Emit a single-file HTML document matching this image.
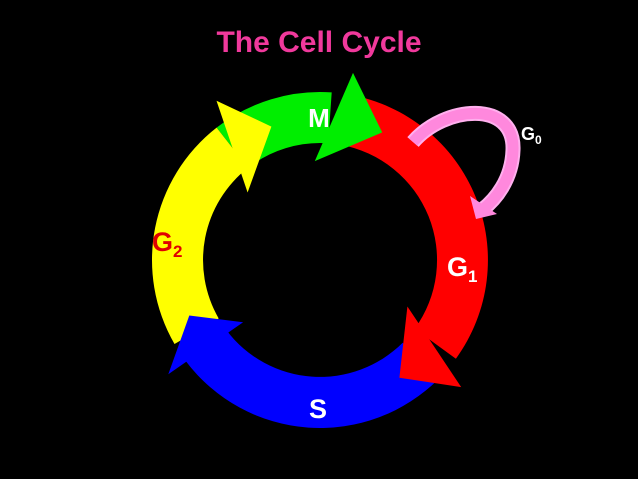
<!DOCTYPE html>
<html><head><meta charset="utf-8"><style>
html,body{margin:0;padding:0;background:#000;width:638px;height:479px;overflow:hidden}
svg{display:block}
text{font-family:"Liberation Sans",sans-serif;font-weight:bold}
</style></head><body>
<svg id="s" width="638" height="479" viewBox="0 0 638 479" xmlns="http://www.w3.org/2000/svg">
<rect width="638" height="479" fill="#000"/>
<g id="bodies"></g>
<g id="heads"></g>
<path d="M413,142 C445,105 515,100 513,150 C512,180 495,200 482,210" fill="none" stroke="#ffb0ee" stroke-width="15"/>
<path d="M413,142 C445,105 515,100 513,150 C512,180 495,200 482,210" fill="none" stroke="#ff88dd" stroke-width="11"/>
<polygon points="470,196 497,214 476,219" fill="#ff88dd"/>
<text x="319" y="52" font-size="30" fill="#f0399c" text-anchor="middle">The Cell Cycle</text>
<text x="319" y="127" font-size="26" fill="#fff" text-anchor="middle">M</text>
<text x="152" y="251" font-size="27" fill="#e00000">G<tspan font-size="17" dy="6">2</tspan></text>
<text x="447" y="276" font-size="27" fill="#fff">G<tspan font-size="17" dy="6">1</tspan></text>
<text x="318" y="418" font-size="27" fill="#fff" text-anchor="middle">S</text>
<text x="521" y="140" font-size="18" fill="#fff">G<tspan font-size="12" dy="4">0</tspan></text>
</svg>
<script>
var cx=320,cy=260,ri=117,ro=168,rm=142.5;
function p(r,a){a=a*Math.PI/180;return (cx+r*Math.cos(a)).toFixed(1)+","+(cy+r*Math.sin(a)).toFixed(1);}
function body(a0,a1,c){
 var large=(a1-a0)>180?1:0;
 return '<path d="M'+p(ro,a0)+' A'+ro+','+ro+' 0 '+large+' 1 '+p(ro,a1)+' L'+p(ri,a1)+' A'+ri+','+ri+' 0 '+large+' 0 '+p(ri,a0)+' Z" fill="'+c+'"/>';
}
function head(ao,ai,at,c){
 return '<polygon points="'+p(190,ao)+' '+p(99,ai)+' '+p(142,at)+'" fill="'+c+'"/>';
}
var arrows=[
 {a0:-128,a1:-86,ao:-80,ai:-93,at:-64,c:"#00ee00"},
 {a0:-80,a1:36,ao:42,ai:28,at:56,c:"#ff0000"},
 {a0:45,a1:143,ao:143,ai:141,at:157,c:"#0000ff"},
 {a0:150,a1:232,ao:237,ai:223,at:250,c:"#ffff00"}
];
var b="",h="";
arrows.forEach(function(a){b+=body(a.a0,a.a1,a.c);h+=head(a.ao,a.ai,a.at,a.c);});
document.getElementById("bodies").innerHTML=b;
document.getElementById("heads").innerHTML=h;
</script>
</body></html>
